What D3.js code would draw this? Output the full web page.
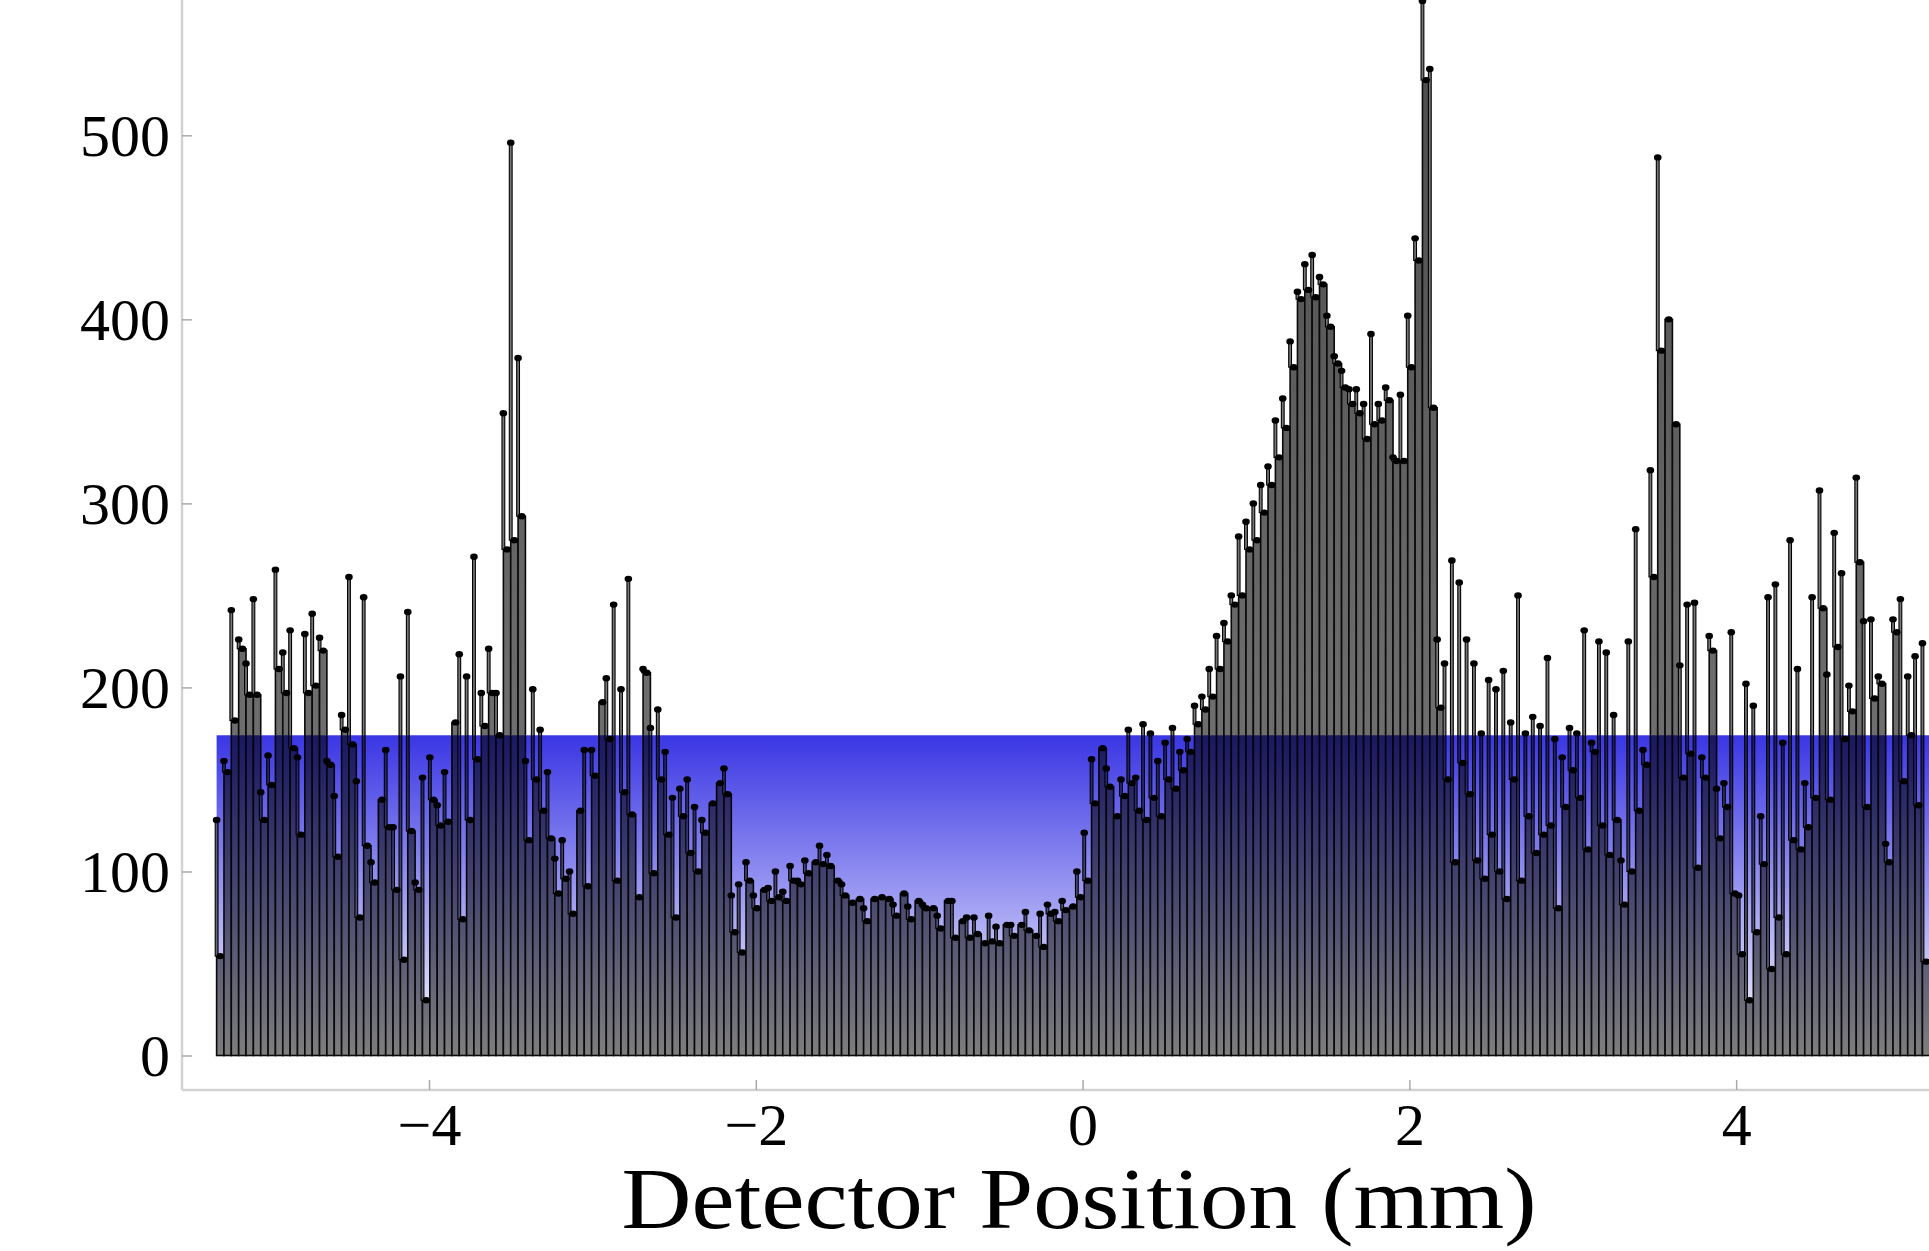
<!DOCTYPE html>
<html>
<head>
<meta charset="utf-8">
<script src="https://cdn.jsdelivr.net/npm/d3@7"></script>
<style>
  html, body { margin: 0; padding: 0; background: #fff; overflow: hidden; }
  svg { display: block; background: #fff; }
  text { font-family: "Liberation Serif", "DejaVu Serif", serif; fill: #000; }
</style>
</head>
<body>
<div id="chart"></div>
<script>
// histogram bins (mm)
const binStart = -5.30, binWidth = 0.045;

// bar height per bin
const counts = [
  54,154,182,221,196,196,128,147,210,197,
  167,120,197,201,220,158,108,177,169,75,
  114,94,139,124,90,52,122,90,30,139,
  125,127,181,74,128,161,179,197,174,275,
  280,293,117,150,133,118,88,96,77,133,
  92,152,192,172,95,143,131,86,208,99,
  150,120,75,130,110,100,121,137,148,142,
  67,56,95,80,90,84,86,84,95,93,
  99,105,104,103,95,87,83,85,73,85,
  86,85,76,88,74,84,80,80,69,84,
  64,73,64,66,61,62,61,71,65,71,
  68,65,59,77,73,79,81,86,95,137,
  167,146,130,141,148,133,128,140,130,150,
  145,155,165,180,188,195,210,225,245,250,
  275,280,295,310,325,341,374,411,416,412,
  419,396,376,363,354,349,335,343,345,356,
  323,323,374,432,530,352,189,150,105,159,
  142,106,96,120,100,85,150,95,130,110,
  120,125,80,135,155,140,112,165,125,109,
  128,82,100,133,158,260,383,400,343,151,
  164,102,151,220,118,135,88,55,30,67,
  104,47,75,55,117,112,124,140,243,139,
  222,172,187,268,135,194,202,105,230,149,
  174,136,51
];

// spike (stem) top per bin
const peaks = [
  128,160,242,226,213,248,143,163,264,219,
  231,162,229,240,227,160,141,185,260,149,
  249,105,139,166,124,206,241,94,151,162,
  136,154,181,218,206,271,197,221,197,349,
  496,379,160,199,177,154,107,117,100,133,
  166,166,192,205,245,199,259,86,210,178,
  188,165,140,145,150,135,128,137,148,156,
  87,93,105,87,90,91,100,89,103,95,
  106,105,114,109,95,93,83,86,80,85,
  86,85,82,88,81,84,82,80,76,84,
  84,73,75,75,61,76,70,71,71,71,
  78,65,77,82,78,84,81,100,121,161,
  167,156,130,150,177,151,180,175,160,170,
  178,165,172,190,195,210,228,235,250,282,
  290,300,310,320,345,357,388,415,430,435,
  423,402,380,372,362,362,354,392,354,363,
  325,359,402,444,573,536,226,213,269,257,
  226,213,175,204,199,209,181,250,175,184,
  179,216,172,162,178,175,231,170,225,219,
  185,106,225,286,166,318,488,401,343,212,
  245,246,162,228,145,148,230,87,202,190,
  130,249,256,170,280,210,148,249,307,207,
  284,262,201,314,236,237,206,115,237,248,
  206,217,224
];

const yTicks = [0, 100, 200, 300, 400, 500];
const yMinor = d3.range(0, 561, 20).filter(v => v % 100 !== 0);
const xTicks = [-4, -2, 0, 2, 4];
const xMinor = d3.range(-5, 5.01, 0.5).filter(v => Math.abs(v % 2) > 0.01);
const bandTop = 174;   // top of the shaded band
const xTitle = "Detector Position (mm)";

const W = 1929, H = 1251;
const axisX = 182, axisY = 1090;

const svg = d3.select("#chart").append("svg")
    .attr("width", W)
    .attr("height", H);

const x = d3.scaleLinear().domain([-5.51, 5.19]).range([182.3, 1930.6]);
const y = d3.scaleLinear().domain([0, 500]).range([1055.5, 135.3]);

const defs = svg.append("defs");

const barGrad = defs.append("linearGradient")
    .attr("id", "barFill")
    .attr("gradientUnits", "userSpaceOnUse")
    .attr("x1", 0).attr("x2", 0)
    .attr("y1", y(575)).attr("y2", y(0));
barGrad.append("stop").attr("offset", 0).attr("stop-color", "#4a4a4a");
barGrad.append("stop").attr("offset", 1).attr("stop-color", "#7e7e7e");

const blueGrad = defs.append("linearGradient")
    .attr("id", "blueFill")
    .attr("x1", 0).attr("x2", 0).attr("y1", 0).attr("y2", 1);
blueGrad.append("stop").attr("offset", 0).attr("stop-color", "rgb(58,54,228)");
blueGrad.append("stop").attr("offset", 1).attr("stop-color", "#fff");

const bins = counts.map((c, i) => ({
  x0: binStart + i * binWidth,
  count: c,
  peak: peaks[i]
}));
const bw = x(binWidth) - x(0);

// bars
svg.append("g")
  .selectAll("rect")
  .data(bins)
  .join("rect")
    .attr("x", d => x(d.x0))
    .attr("y", d => y(d.count))
    .attr("width", bw)
    .attr("height", d => y(0) - y(d.count))
    .attr("fill", "url(#barFill)")
    .attr("stroke", "#0a0a0a")
    .attr("stroke-width", 1.6);

// stems
const spikes = bins.filter(d => d.peak > d.count + 1);
svg.append("g")
  .selectAll("rect")
  .data(spikes)
  .join("rect")
    .attr("x", d => x(d.x0) - 1.4)
    .attr("y", d => y(d.peak))
    .attr("width", 2.8)
    .attr("height", d => y(d.count) - y(d.peak))
    .attr("fill", "#777")
    .attr("stroke", "#000")
    .attr("stroke-width", 1.1);

// points
const dots = svg.append("g").attr("fill", "#000");
dots.selectAll("ellipse.top")
  .data(bins)
  .join("ellipse")
    .attr("class", "top")
    .attr("cx", d => x(d.x0) + bw / 2)
    .attr("cy", d => y(d.count))
    .attr("rx", 3.8)
    .attr("ry", 3.2);
dots.selectAll("ellipse.spk")
  .data(spikes)
  .join("ellipse")
    .attr("class", "spk")
    .attr("cx", d => x(d.x0))
    .attr("cy", d => y(d.peak))
    .attr("rx", 3.8)
    .attr("ry", 3.2);

// shaded band
svg.append("rect")
    .attr("x", x(binStart))
    .attr("y", y(bandTop))
    .attr("width", W - x(binStart))
    .attr("height", y(0) - y(bandTop))
    .attr("fill", "url(#blueFill)")
    .style("mix-blend-mode", "multiply");

// axes lines
svg.append("line")
    .attr("x1", axisX).attr("x2", axisX)
    .attr("y1", 0).attr("y2", axisY)
    .attr("stroke", "#d2d2d2").attr("stroke-width", 2.5);
svg.append("line")
    .attr("x1", axisX).attr("x2", W)
    .attr("y1", axisY).attr("y2", axisY)
    .attr("stroke", "#d2d2d2").attr("stroke-width", 2.5);

// y axis
const yAxisG = svg.append("g").attr("transform", `translate(${axisX},0)`);
yAxisG.call(d3.axisLeft(y).tickValues(yMinor).tickSize(-6).tickFormat(""));
yAxisG.call(d3.axisLeft(y).tickValues(yTicks).tickSize(-10).tickPadding(12));
yAxisG.selectAll(".domain").remove();
yAxisG.selectAll(".tick line").attr("stroke", "#aaa").attr("stroke-width", 1.5);
yAxisG.selectAll(".tick text")
    .attr("font-family", "Liberation Serif, DejaVu Serif, serif")
    .attr("font-size", 60)
    .attr("dy", "0.34em");

// x axis
const xAxisG = svg.append("g").attr("transform", `translate(0,${axisY})`);
xAxisG.call(d3.axisBottom(x).tickValues(xMinor).tickSize(-6).tickFormat(""));
xAxisG.call(d3.axisBottom(x).tickValues(xTicks).tickSize(-10).tickPadding(12));
xAxisG.selectAll(".domain").remove();
xAxisG.selectAll(".tick line").attr("stroke", "#aaa").attr("stroke-width", 1.5);
xAxisG.selectAll(".tick text")
    .attr("font-family", "Liberation Serif, DejaVu Serif, serif")
    .attr("font-size", 60);

svg.append("text")
    .attr("x", 1079)
    .attr("y", 1228)
    .attr("text-anchor", "middle")
    .attr("font-size", 86)
    .attr("textLength", 915)
    .attr("lengthAdjust", "spacingAndGlyphs")
    .text(xTitle);
</script>
</body>
</html>
